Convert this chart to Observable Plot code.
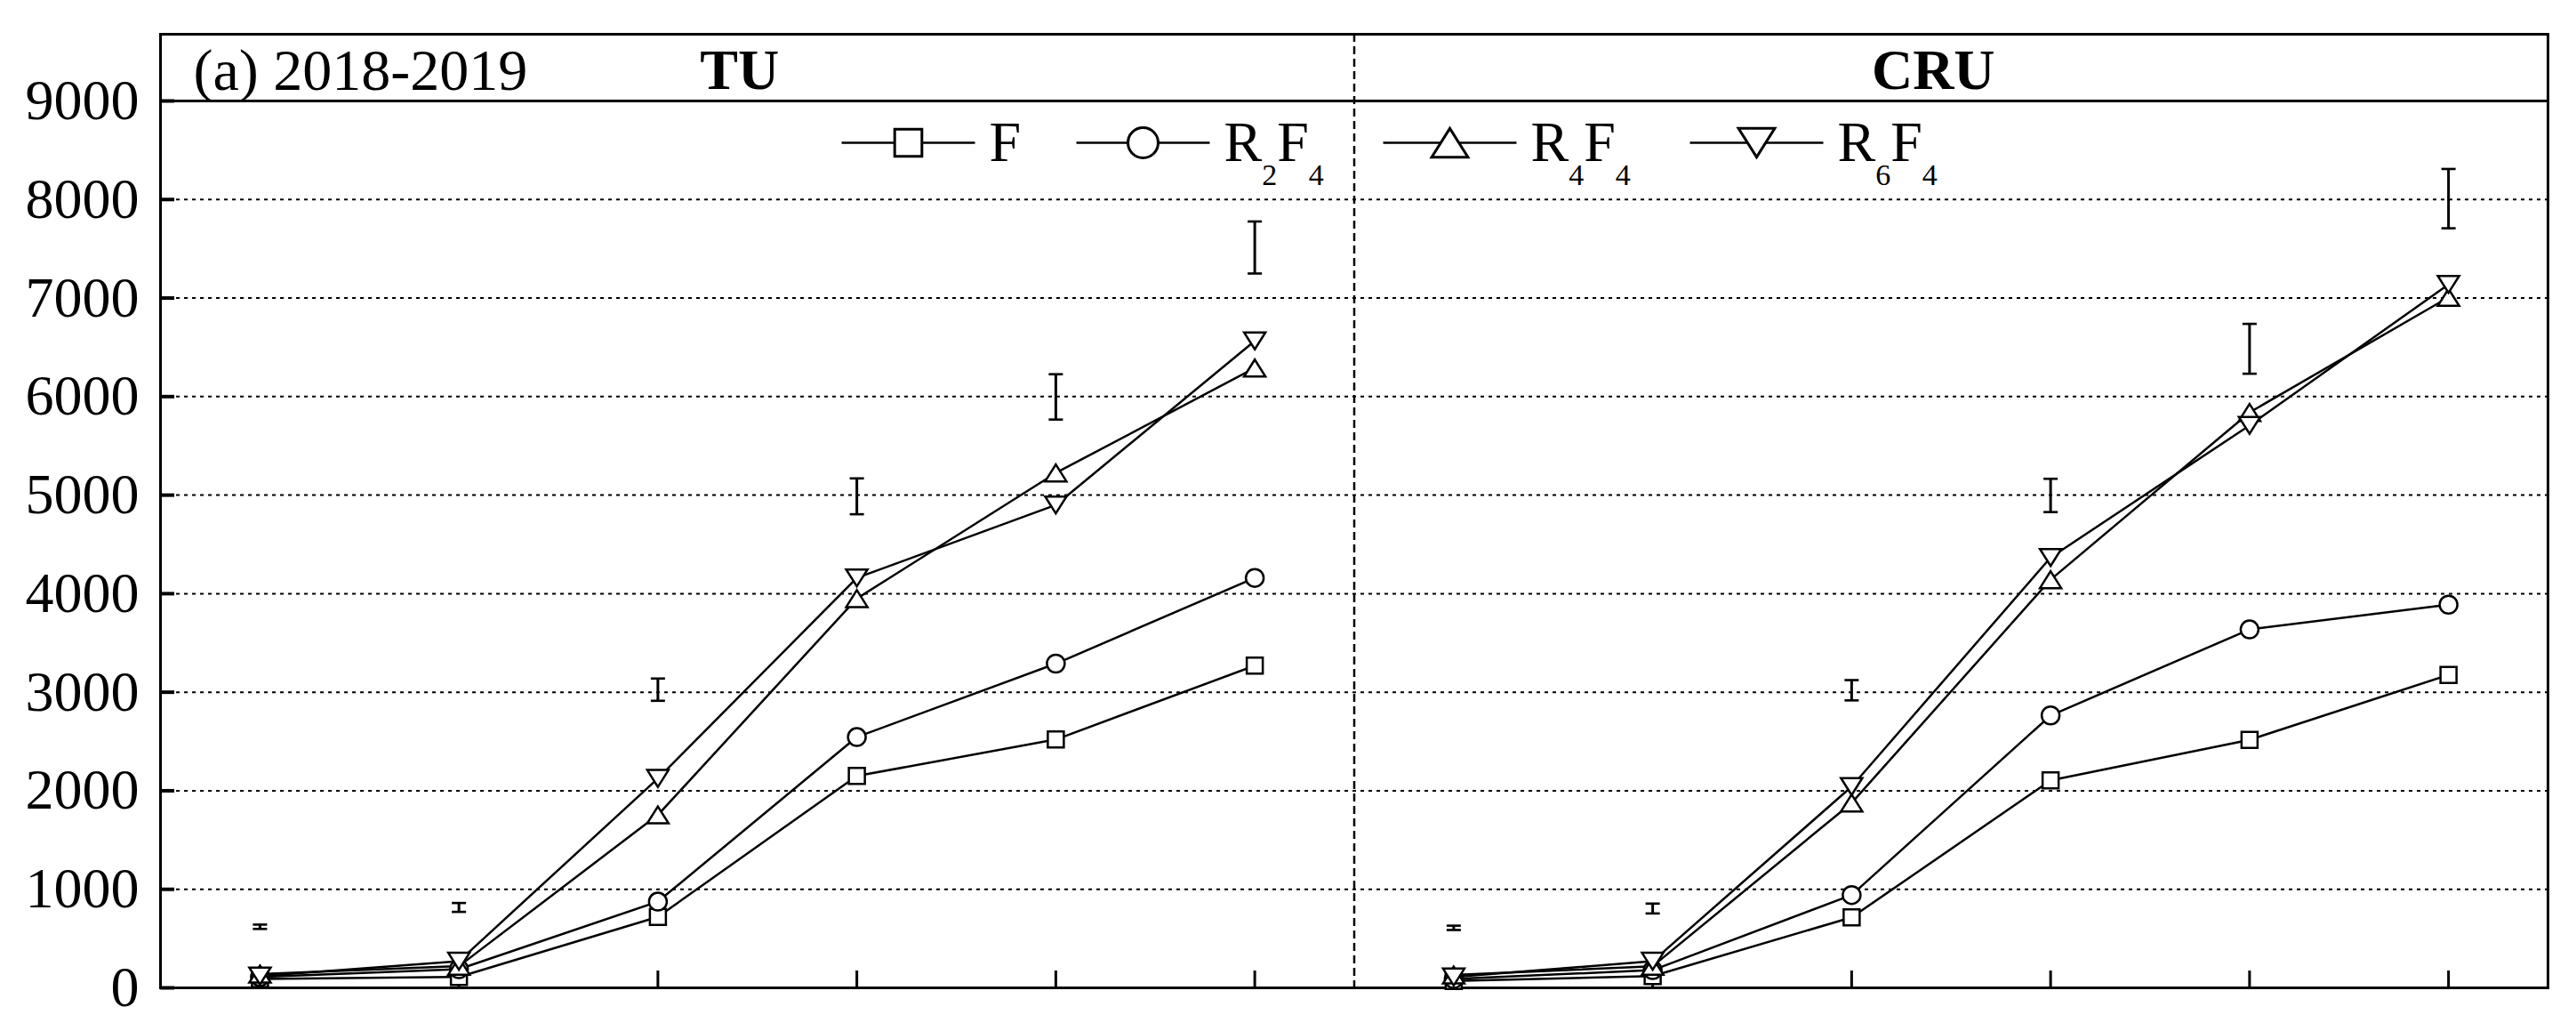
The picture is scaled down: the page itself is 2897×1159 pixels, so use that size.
<!DOCTYPE html>
<html>
<head>
<meta charset="utf-8">
<script src="https://cdn.jsdelivr.net/npm/d3@7"></script>
<script src="https://cdn.jsdelivr.net/npm/@observablehq/plot@0.6"></script>
<style>
  html, body { margin: 0; padding: 0; background: #fff; }
  svg { display: block; }
</style>
</head>
<body>
<div id="chart"></div>
<script>
// ---------- data ----------
const panels = ["TU", "CRU"];
const stages = [1, 2, 3, 4, 5, 6];            // sampling stages (unlabelled on the x axis)
const seriesNames = ["F", "R2F4", "R4F4", "R6F4"];
const yTicks = [0, 1000, 2000, 3000, 4000, 5000, 6000, 7000, 8000, 9000];
const periodLabel = "(a) 2018-2019";

const tuF    = [90, 110, 720, 2150, 2520, 3270];
const tuR2F4 = [110, 190, 875, 2545, 3290, 4160];
const tuR4F4 = [140, 220, 1755, 3950, 5225, 6290];
const tuR6F4 = [120, 270, 2125, 4160, 4900, 6565];
const tuErrMid  = [620, 816, 3026, 4988, 5997, 7513];
const tuErrHalf = [22, 45, 113, 182, 230, 264];

const cruF    = [70, 120, 715, 2105, 2517, 3176];
const cruR2F4 = [90, 180, 942, 2764, 3637, 3888];
const cruR4F4 = [130, 220, 1876, 4142, 5839, 7007];
const cruR6F4 = [110, 270, 2042, 4367, 5708, 7139];
const cruErrMid  = [609, 805, 3020, 4997, 6485, 8009];
const cruErrHalf = [22, 50, 103, 169, 253, 301];

// ---------- tables ----------
const values = {
  TU:  {F: tuF,  R2F4: tuR2F4,  R4F4: tuR4F4,  R6F4: tuR6F4},
  CRU: {F: cruF, R2F4: cruR2F4, R4F4: cruR4F4, R6F4: cruR6F4}
};
const errs = {TU: [tuErrMid, tuErrHalf], CRU: [cruErrMid, cruErrHalf]};
const n = stages.length;
const rows = [];
const errRows = [];
panels.forEach((p, pi) => {
  seriesNames.forEach(s => values[p][s].forEach((v, i) =>
    rows.push({panel: p, series: s, pos: pi * n + i + 0.5, value: v})));
  stages.forEach((st, i) => errRows.push({
    panel: p, pos: pi * n + i + 0.5,
    lo: errs[p][0][i] - errs[p][1][i], hi: errs[p][0][i] + errs[p][1][i]
  }));
});
const tickPositions = rows.filter(d => d.series === "F").map(d => d.pos);

// ---------- symbols ----------
const rad = size => Math.sqrt(size / Math.PI);
const symSquare = {draw(c, size) { const h = 0.9 * rad(size); c.moveTo(-h, -h); c.lineTo(h, -h); c.lineTo(h, h); c.lineTo(-h, h); c.closePath(); }};
const symCircle = {draw(c, size) { const r = rad(size); c.moveTo(r, 0); c.arc(0, 0, r, 0, 2 * Math.PI); c.closePath(); }};
const symUp = {draw(c, size) { const r = rad(size), w = 1.2 * r, h = 0.95 * r; c.moveTo(0, -h); c.lineTo(w, h); c.lineTo(-w, h); c.closePath(); }};
const symDown = {draw(c, size) { const r = rad(size), w = 1.2 * r, h = 0.95 * r; c.moveTo(0, h); c.lineTo(w, -h); c.lineTo(-w, -h); c.closePath(); }};
const symHLine = {draw(c, size) { const r = rad(size); c.moveTo(-r, 0); c.lineTo(r, 0); }};
const symbolOf = {F: symSquare, R2F4: symCircle, R4F4: symUp, R6F4: symDown};

// ---------- layout (styles, pixels) ----------
const innerW = 2897 - 180 - 32;
const innerH = 1159 - 113 - 49;
const headerH = 75;
const legendCenters = [841, 1105, 1450, 1795]; // pixel offsets from frame left
const legendY = 47;
const FONT = "'Liberation Serif', 'Times New Roman', serif";

const legendMarks = seriesNames.flatMap((s, i) => [
  Plot.dot([s], {frameAnchor: "top-left", dx: legendCenters[i], dy: legendY, symbol: symHLine, r: 75, stroke: "black", strokeWidth: 2.5, fill: "none"}),
  Plot.dot([s], {frameAnchor: "top-left", dx: legendCenters[i], dy: legendY, symbol: symbolOf[s], r: 17, stroke: "black", strokeWidth: 3, fill: "white"}),
  Plot.text([s], {frameAnchor: "top-left", dx: legendCenters[i] + 91, dy: legendY, text: d => d, textAnchor: "start", lineAnchor: "middle", fontSize: 64, fill: "black"})
]);

const chart = Plot.plot({
  width: 2897,
  height: 1159,
  marginLeft: 180,
  marginRight: 32,
  marginTop: 113,
  marginBottom: 49,
  x: {domain: [0, 2 * n], axis: null},
  y: {domain: [0, yTicks[yTicks.length - 1]], axis: null},
  style: {fontFamily: FONT, fontSize: "64px", color: "black", background: "white", overflow: "visible"},
  marks: [
    Plot.ruleY(yTicks.slice(1, -1), {stroke: "black", strokeWidth: 2, strokeDasharray: "4,5"}),
    Plot.ruleY(yTicks.slice(-1), {stroke: "black", strokeWidth: 3}),
    Plot.frame({insetTop: -headerH, stroke: "black", strokeWidth: 3}),
    Plot.ruleX([n], {insetTop: -headerH, stroke: "black", strokeWidth: 2.5, strokeDasharray: "9,5"}),
    Plot.tickX(tickPositions, {x: d => d, insetTop: innerH - 19, stroke: "black", strokeWidth: 3}),
    Plot.tickY(yTicks, {y: d => d, insetRight: innerW - 16, stroke: "black", strokeWidth: 4}),
    // error bars
    Plot.ruleX(errRows, {x: "pos", y1: "lo", y2: "hi", stroke: "black", strokeWidth: 3}),
    Plot.dot(errRows, {x: "pos", y: "lo", symbol: symHLine, r: 8, stroke: "black", strokeWidth: 2.6}),
    Plot.dot(errRows, {x: "pos", y: "hi", symbol: symHLine, r: 8, stroke: "black", strokeWidth: 2.6}),
    // series
    Plot.line(rows, {x: "pos", y: "value", z: d => d.panel + d.series, stroke: "black", strokeWidth: 2.5}),
    ...seriesNames.map(s => Plot.dot(rows.filter(d => d.series === s), {x: "pos", y: "value", symbol: symbolOf[s], r: 10, stroke: "black", strokeWidth: 2.5, fill: "white"})),
    // legend
    ...legendMarks,
    // header
    Plot.text([periodLabel], {frameAnchor: "top-left", dx: 37, dy: -34, text: d => d, textAnchor: "start", lineAnchor: "middle", fontSize: 66, fill: "black"}),
    Plot.text(panels, {x: (d, i) => i * n + n / 2, frameAnchor: "top", dx: -20, dy: -34, text: d => d, lineAnchor: "middle", fontSize: 64, fontWeight: "bold", fill: "black"}),
    // y axis labels
    Plot.axisY(yTicks, {tickSize: 0, tickPadding: 24, tickFormat: d => String(d), fontSize: 64, fill: "black"})
  ]
});

// subscripts in legend labels (R2F4 -> R₂F₄ style)
d3.select(chart).selectAll("text").each(function () {
  const t = this.textContent;
  const m = /^R(\d)F(\d)$/.exec(t);
  if (!m) return;
  const sel = d3.select(this);
  sel.text(null);
  sel.append("tspan").text("R");
  sel.append("tspan").attr("dy", 27).style("font-size", "34px").text(m[1]);
  sel.append("tspan").attr("dy", -27).style("font-size", "64px").text("F");
  sel.append("tspan").attr("dy", 27).style("font-size", "34px").text(m[2]);
});

document.getElementById("chart").appendChild(chart);
</script>
</body>
</html>
